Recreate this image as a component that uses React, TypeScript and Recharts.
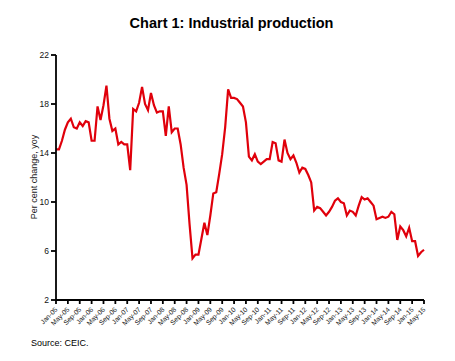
import React from "react";
import { LineChart, Line, XAxis, YAxis } from "recharts";

const MONTHS = ["Jan", "Feb", "Mar", "Apr", "May", "Jun", "Jul", "Aug", "Sep", "Oct", "Nov", "Dec"];
const YEARS = ["05", "06", "07", "08", "09", "10", "11", "12", "13", "14", "15"];

const v2005 = [14.3, 14.3, 15.0, 15.9, 16.5, 16.8, 16.1, 16.0, 16.5, 16.2, 16.6, 16.5];
const v2006 = [15.0, 15.0, 17.8, 16.7, 17.9, 19.5, 16.8, 15.8, 16.0, 14.7, 14.9, 14.7];
const v2007 = [14.7, 12.6, 17.6, 17.4, 18.1, 19.4, 18.0, 17.5, 18.9, 17.9, 17.3, 17.4];
const v2008 = [17.4, 15.4, 17.8, 15.7, 16.0, 16.0, 14.7, 12.8, 11.4, 8.2, 5.4, 5.7];
const v2009 = [5.7, 7.0, 8.3, 7.3, 8.9, 10.7, 10.8, 12.3, 13.9, 16.1, 19.2, 18.5];
const v2010 = [18.5, 18.4, 18.1, 17.8, 16.5, 13.7, 13.4, 13.9, 13.3, 13.1, 13.3, 13.5];
const v2011 = [13.5, 14.9, 14.8, 13.4, 13.3, 15.1, 14.0, 13.5, 13.8, 13.2, 12.4, 12.8];
const v2012 = [12.7, 12.2, 11.6, 9.3, 9.6, 9.5, 9.2, 8.9, 9.2, 9.6, 10.1, 10.3];
const v2013 = [10.0, 9.9, 8.9, 9.3, 9.2, 8.9, 9.7, 10.4, 10.2, 10.3, 10.0, 9.7];
const v2014 = [8.6, 8.7, 8.8, 8.7, 8.8, 9.2, 9.0, 6.9, 8.0, 7.7, 7.2, 7.9];
const v2015 = [6.8, 6.8, 5.6, 5.9, 6.1];

const VALUES = [
  ...v2005, ...v2006, ...v2007, ...v2008, ...v2009, ...v2010,
  ...v2011, ...v2012, ...v2013, ...v2014, ...v2015,
];

const CATEGORIES: string[] = [];
YEARS.forEach((y) => MONTHS.forEach((m) => CATEGORIES.push(`${m}-${y}`)));

const Y_TICKS = [2, 6, 10, 14, 18, 22];

const data = VALUES.map((v, i) => ({ month: CATEGORIES[i], ip: v }));

const FONT = "'Liberation Sans', Arial, sans-serif";

const XTick = (props: any) => {
  const { x, y, payload } = props;
  return (
    <text
      x={x + 2}
      y={y + 4}
      transform={`rotate(-45 ${x + 2} ${y + 4})`}
      textAnchor="end"
      fontSize={6.8}
      fontFamily={FONT}
      fill="#222"
    >
      {payload.value}
    </text>
  );
};

export default function App() {
  return (
    <div style={{ position: "absolute", left: 0, top: 0, width: 455, height: 361, background: "#fff" }}>
      <LineChart
        width={455}
        height={361}
        data={data}
        margin={{ top: 55, right: 31, left: 0, bottom: 31 }}
      >
        <XAxis
          dataKey="month"
          height={30}
          interval={3}
          tickSize={4}
          tick={<XTick />}
          axisLine={{ stroke: "#000", strokeWidth: 1.8 }}
          tickLine={{ stroke: "#000", strokeWidth: 1.8 }}
        />
        <YAxis
          width={56}
          domain={[2, 22]}
          ticks={Y_TICKS}
          tickSize={5}
          tickMargin={2}
          allowDataOverflow
          axisLine={{ stroke: "#000", strokeWidth: 1.8 }}
          tickLine={{ stroke: "#000", strokeWidth: 1.8 }}
          tick={{ fontSize: 8.5, fontFamily: FONT, fill: "#111" }}
        />
        <Line
          type="linear"
          dataKey="ip"
          stroke="#e0000b"
          strokeWidth={2.2}
          dot={false}
          isAnimationActive={false}
        />
      </LineChart>
      <svg
        width={455}
        height={361}
        style={{ position: "absolute", left: 0, top: 0, pointerEvents: "none" }}
      >
        <text x={231.5} y={28} textAnchor="middle" fontSize={14.5} fontWeight="bold" fontFamily={FONT} fill="#000">
          Chart 1: Industrial production
        </text>
        <text
          x={37}
          y={177}
          transform="rotate(-90 37 177)"
          textAnchor="middle"
          fontSize={9}
          fontFamily={FONT}
          fill="#222"
        >
          Per cent change, yoy
        </text>
        <text x={31} y={346} fontSize={9} fontFamily={FONT} fill="#000">
          Source: CEIC.
        </text>
      </svg>
    </div>
  );
}
